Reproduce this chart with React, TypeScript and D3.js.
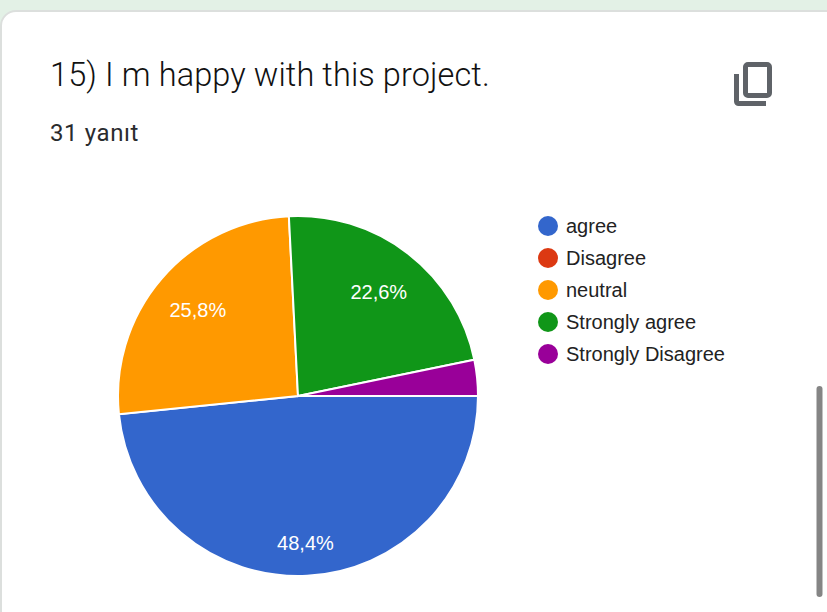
import * as d3 from 'd3';

const title = '15) I m happy with this project.';
const responses = '31 yanıt';

const categories = ['agree', 'Disagree', 'neutral', 'Strongly agree', 'Strongly Disagree'];
const counts = [15, 0, 8, 7, 1];
const colors = ['#3366cc', '#dc3912', '#ff9900', '#109618', '#990099'];

const width = 827;
const height = 612;
const cx = 298;
const cy = 396;
const radius = 180;

// slices start at 3 o'clock and run clockwise
const pie = d3
  .pie<number>()
  .sort(null)
  .startAngle(Math.PI / 2)
  .endAngle(Math.PI / 2 + 2 * Math.PI);

const arc = d3.arc<d3.PieArcDatum<number>>().innerRadius(0).outerRadius(radius);

const total = d3.sum(counts);
const formatPct = (v: number) => ((v / total) * 100).toFixed(1).replace('.', ',') + '%';

const legendY = d3
  .scalePoint<string>()
  .domain(categories)
  .range([226, 354]);

export default function App() {
  const slices = pie(counts);

  return (
    <svg
      width={width}
      height={height}
      viewBox={`0 0 ${width} ${height}`}
      style={{ position: 'absolute', left: 0, top: 0, display: 'block', background: '#e3f1e6' }}
    >
      {/* card */}
      <rect x={1} y={11} width={width + 20} height={height + 40} rx={15} fill="#fff" stroke="#dcdfdd" strokeWidth={2} />

      <text x={50} y={86} fontFamily="Roboto, sans-serif" fontSize={32.5} fontWeight={300} letterSpacing={0.1} fill="#111">
        {title}
      </text>
      <text x={50} y={141} fontFamily="Roboto, sans-serif" fontSize={24} letterSpacing={0.6} fill="#2a2b2e">
        {responses}
      </text>

      {/* copy icon */}
      <g fill="none" stroke="#5f6368" strokeWidth={5}>
        <rect x={745.5} y={64.5} width={24} height={31} rx={2.5} />
        <path d="M736.5 74v27.5a2 2 0 0 0 2 2h27.5" />
      </g>

      <g transform={`translate(${cx},${cy})`}>
        {slices.map((d, i) =>
          d.value > 0 ? (
            <path key={categories[i]} d={arc(d) ?? ''} fill={colors[i]} stroke="#fff" strokeWidth={2} />
          ) : null
        )}
        {slices.map((d, i) => {
          const share = d.value / total;
          if (share < 0.05) return null;
          const mid = (d.startAngle + d.endAngle) / 2;
          const r = share > 0.4 ? 147 : 132;
          return (
            <text
              key={categories[i]}
              x={Math.sin(mid) * r}
              y={-Math.cos(mid) * r}
              dy="0.35em"
              textAnchor="middle"
              fontFamily="'Liberation Sans', Arial, sans-serif"
              fontSize={20}
              fill="#fff"
            >
              {formatPct(d.value)}
            </text>
          );
        })}
      </g>

      {categories.map((c, i) => (
        <g key={c} transform={`translate(0,${legendY(c)})`}>
          <circle cx={548} cy={0} r={10} fill={colors[i]} />
          <text
            x={566}
            y={0}
            dy="0.35em"
            fontFamily="'Liberation Sans', Arial, sans-serif"
            fontSize={20}
            fill="#222"
          >
            {c}
          </text>
        </g>
      ))}

      {/* scrollbar */}
      <line x1={819.5} y1={389} x2={819.5} y2={594} stroke="#858585" strokeWidth={6} strokeLinecap="round" />
    </svg>
  );
}
